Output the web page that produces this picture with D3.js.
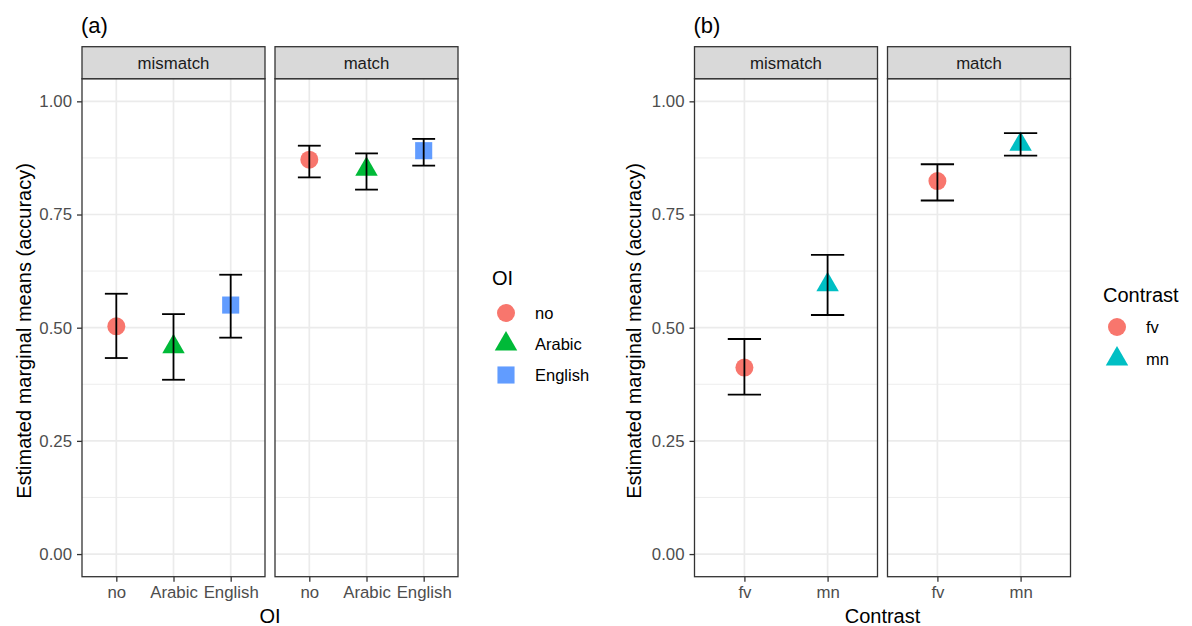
<!DOCTYPE html>
<html>
<head>
<meta charset="utf-8">
<script src="https://cdn.jsdelivr.net/npm/d3@7/dist/d3.min.js"></script>
<style>
  html, body { margin: 0; padding: 0; background: #ffffff; }
  svg { display: block; font-family: "Liberation Sans", Arial, sans-serif; }
</style>
</head>
<body>
<svg id="chart" width="1192" height="626"></svg>
<script>
// ---- data -------------------------------------------------------------
const facets = ["mismatch", "match"];

// (a) estimated marginal means by OI
const oiLevels = ["no", "Arabic", "English"];
const oiMismatchMean  = [0.503, 0.458, 0.550];
const oiMismatchLower = [0.433, 0.385, 0.478];
const oiMismatchUpper = [0.575, 0.530, 0.617];
const oiMatchMean     = [0.871, 0.850, 0.891];
const oiMatchLower    = [0.832, 0.805, 0.858];
const oiMatchUpper    = [0.902, 0.885, 0.917];

// (b) estimated marginal means by Contrast
const contrastLevels = ["fv", "mn"];
const ctMismatchMean  = [0.412, 0.595];
const ctMismatchLower = [0.352, 0.528];
const ctMismatchUpper = [0.475, 0.661];
const ctMatchMean     = [0.824, 0.905];
const ctMatchLower    = [0.781, 0.880];
const ctMatchUpper    = [0.861, 0.930];

const yTicks = [0, 0.25, 0.5, 0.75, 1];
const yMinor = [0.125, 0.375, 0.625, 0.875];

// ---- styling ------------------------------------------------------------
const oiColors = ["#F8766D", "#00BA38", "#619CFF"];
const oiShapes = ["circle", "triangle", "square"];
const ctColors = ["#F8766D", "#00BFC4"];
const ctShapes = ["circle", "triangle"];

const smallFont = 16.8;
const titleFont = 20;

const svg = d3.select("#chart");

function rows(levels, mean, lower, upper) {
  return levels.map((l, i) => ({ level: l, i, mean: mean[i], lower: lower[i], upper: upper[i] }));
}

// ggplot-like point shapes
function shapePath(shape, size) {
  if (shape === "circle") {
    return d3.symbol().type(d3.symbolCircle).size(Math.PI * (size / 2) ** 2)();
  }
  if (shape === "square") {
    const h = size * 0.95 / 2;
    return `M${-h},${-h}H${h}V${h}H${-h}Z`;
  }
  // equilateral triangle centred on its centroid
  const r = size * 0.72;
  const xc = r * Math.sqrt(3) / 2;
  return `M0,${-r}L${xc},${r / 2}L${-xc},${r / 2}Z`;
}

function drawFigure(cfg) {
  const g = svg.append("g");
  const y = d3.scaleLinear().domain([-0.05, 1.05]).range([cfg.bottom, cfg.top]);

  // panel tag
  g.append("text").attr("x", cfg.left - 1).attr("y", 33)
    .attr("font-size", 22).attr("fill", "#000").text(cfg.tag);

  cfg.panels.forEach((p, k) => {
    const x0 = cfg.left + k * (cfg.width + cfg.gap);
    const x = d3.scalePoint().domain(cfg.levels).range([x0, x0 + cfg.width]).padding(0.6);
    const pg = g.append("g");

    // grid
    pg.selectAll(".minor").data(yMinor).join("line")
      .attr("x1", x0).attr("x2", x0 + cfg.width)
      .attr("y1", d => y(d)).attr("y2", d => y(d))
      .attr("stroke", "#EBEBEB").attr("stroke-width", 0.9);
    pg.selectAll(".majorY").data(yTicks).join("line")
      .attr("x1", x0).attr("x2", x0 + cfg.width)
      .attr("y1", d => y(d)).attr("y2", d => y(d))
      .attr("stroke", "#EBEBEB").attr("stroke-width", 1.7);
    pg.selectAll(".majorX").data(cfg.levels).join("line")
      .attr("x1", d => x(d)).attr("x2", d => x(d))
      .attr("y1", cfg.top).attr("y2", cfg.bottom)
      .attr("stroke", "#EBEBEB").attr("stroke-width", 1.7);

    // points then error bars
    const data = rows(cfg.levels, p.mean, p.lower, p.upper);
    pg.selectAll(".pt").data(data).join("path")
      .attr("transform", d => `translate(${x(d.level)},${y(d.mean)})`)
      .attr("d", d => shapePath(cfg.shapes[d.i], 18))
      .attr("fill", d => cfg.colors[d.i]);

    const half = x.step() * 0.2;
    const eb = pg.selectAll(".eb").data(data).join("g")
      .attr("stroke", "#000").attr("stroke-width", 1.8).attr("fill", "none");
    eb.append("line").attr("x1", d => x(d.level)).attr("x2", d => x(d.level))
      .attr("y1", d => y(d.lower)).attr("y2", d => y(d.upper));
    eb.append("line").attr("x1", d => x(d.level) - half).attr("x2", d => x(d.level) + half)
      .attr("y1", d => y(d.upper)).attr("y2", d => y(d.upper));
    eb.append("line").attr("x1", d => x(d.level) - half).attr("x2", d => x(d.level) + half)
      .attr("y1", d => y(d.lower)).attr("y2", d => y(d.lower));

    // panel border
    pg.append("rect").attr("x", x0).attr("y", cfg.top)
      .attr("width", cfg.width).attr("height", cfg.bottom - cfg.top)
      .attr("fill", "none").attr("stroke", "#333333").attr("stroke-width", 1.3);

    // strip
    pg.append("rect").attr("x", x0).attr("y", cfg.stripTop)
      .attr("width", cfg.width).attr("height", cfg.top - cfg.stripTop)
      .attr("fill", "#D9D9D9").attr("stroke", "#333333").attr("stroke-width", 1.3);
    pg.append("text").attr("x", x0 + cfg.width / 2).attr("y", (cfg.stripTop + cfg.top) / 2)
      .attr("dy", "0.35em").attr("text-anchor", "middle")
      .attr("font-size", smallFont).attr("fill", "#1A1A1A").text(facets[k]);

    // x axis
    const xa = pg.append("g").attr("transform", `translate(0,${cfg.bottom})`)
      .call(d3.axisBottom(x).tickSize(5).tickPadding(4));
    xa.select(".domain").remove();
    xa.selectAll(".tick line").attr("stroke", "#333333").attr("stroke-width", 1.3);
    xa.selectAll(".tick text").attr("font-size", smallFont).attr("fill", "#4D4D4D")
      .attr("font-family", "Liberation Sans, Arial, sans-serif");

    // y axis on the first panel only
    if (k === 0) {
      const ya = pg.append("g").attr("transform", `translate(${x0},0)`)
        .call(d3.axisLeft(y).tickValues(yTicks).tickFormat(d3.format(".2f")).tickSize(5).tickPadding(5));
      ya.select(".domain").remove();
      ya.selectAll(".tick line").attr("stroke", "#333333").attr("stroke-width", 1.3);
      ya.selectAll(".tick text").attr("font-size", smallFont).attr("fill", "#4D4D4D")
        .attr("font-family", "Liberation Sans, Arial, sans-serif");
    }
  });

  // axis titles
  const totalRight = cfg.left + cfg.panels.length * cfg.width + (cfg.panels.length - 1) * cfg.gap;
  g.append("text").attr("x", (cfg.left + totalRight) / 2).attr("y", 623)
    .attr("text-anchor", "middle").attr("font-size", titleFont).attr("fill", "#000").text(cfg.xTitle);
  g.append("text")
    .attr("transform", `translate(${cfg.yTitleX},331) rotate(-90)`)
    .attr("text-anchor", "middle").attr("font-size", titleFont).attr("fill", "#000")
    .text("Estimated marginal means (accuracy)");

  // legend
  const lg = g.append("g");
  lg.append("text").attr("x", cfg.legend.x).attr("y", cfg.legend.titleY)
    .attr("font-size", titleFont).attr("fill", "#000").text(cfg.xTitle);
  cfg.levels.forEach((l, i) => {
    const ky = cfg.legend.firstY + i * cfg.legend.step;
    lg.append("path").attr("transform", `translate(${cfg.legend.x + 14},${ky})`)
      .attr("d", shapePath(cfg.shapes[i], 18)).attr("fill", cfg.colors[i]);
    lg.append("text").attr("x", cfg.legend.x + 43).attr("y", ky).attr("dy", "0.35em")
      .attr("font-size", 16.5).attr("fill", "#000").text(l);
  });
}

drawFigure({
  tag: "(a)", left: 82, width: 183, gap: 10, stripTop: 46.7, top: 78.7, bottom: 576.7,
  levels: oiLevels, colors: oiColors, shapes: oiShapes, xTitle: "OI", yTitleX: 31,
  panels: [
    { mean: oiMismatchMean, lower: oiMismatchLower, upper: oiMismatchUpper },
    { mean: oiMatchMean, lower: oiMatchLower, upper: oiMatchUpper }
  ],
  legend: { x: 492, titleY: 285, firstY: 313, step: 31 }
});

drawFigure({
  tag: "(b)", left: 694.5, width: 183, gap: 10, stripTop: 46.7, top: 78.7, bottom: 576.7,
  levels: contrastLevels, colors: ctColors, shapes: ctShapes, xTitle: "Contrast", yTitleX: 641,
  panels: [
    { mean: ctMismatchMean, lower: ctMismatchLower, upper: ctMismatchUpper },
    { mean: ctMatchMean, lower: ctMatchLower, upper: ctMatchUpper }
  ],
  legend: { x: 1103, titleY: 302, firstY: 327, step: 32 }
});
</script>
</body>
</html>
